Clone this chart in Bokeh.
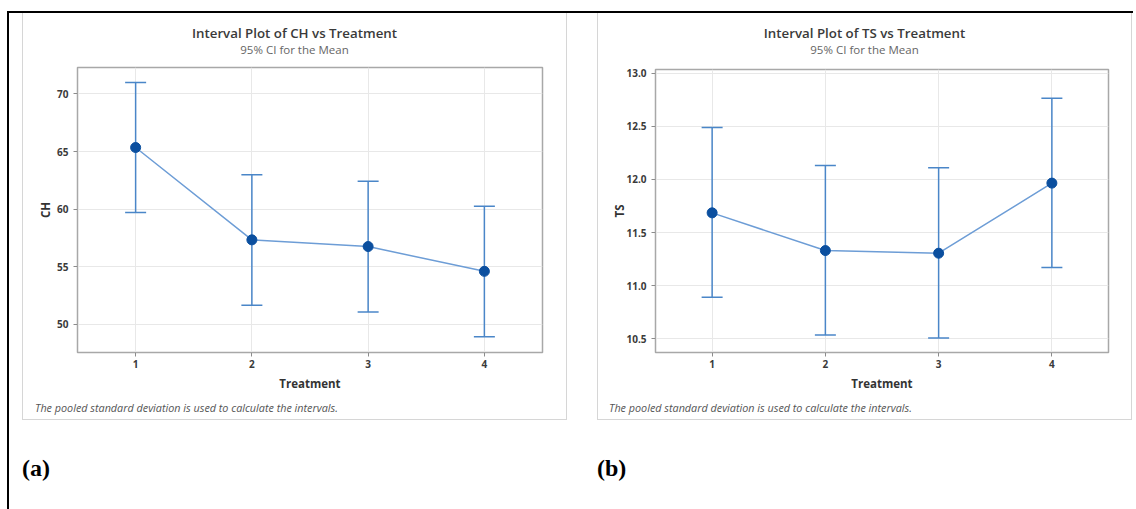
from bokeh.plotting import figure
from bokeh.models import (ColumnDataSource, Whisker, TeeHead, FixedTicker, Range1d,
                          PrintfTickFormatter, Div, Spacer)
from bokeh.layouts import row, column
from bokeh.embed import file_html
from bokeh.resources import INLINE

# ---------------- data ----------------
treatments = [1, 2, 3, 4]

ch_mean = [65.35, 57.34, 56.76, 54.61]
ch_lower = [59.72, 51.66, 51.08, 48.94]
ch_upper = [70.99, 62.99, 62.42, 60.26]
ch_ticks = [50, 55, 60, 65, 70]

ts_mean = [11.685, 11.330, 11.305, 11.965]
ts_lower = [10.890, 10.535, 10.507, 11.170]
ts_upper = [12.488, 12.130, 12.110, 12.765]
ts_ticks = [10.5, 11.0, 11.5, 12.0, 12.5, 13.0]

titles = ["Interval Plot of CH vs Treatment", "Interval Plot of TS vs Treatment"]
subtitle = "95% CI for the Mean"
footnote = "The pooled standard deviation is used to calculate the intervals."
x_label = "Treatment"
y_labels = ["CH", "TS"]
panel_tags = ["(a)", "(b)"]

# ---------------- style ----------------
FONT = "Open Sans"
ERR_COLOR = "#4a86c8"
LINE_COLOR = "#6d9dd6"
MARK_COLOR = "#0b4f9f"
FRAME_COLOR = "#a8a8a8"
GRID_COLOR = "#e8e8e8"
PANEL_BORDER = "#d6d6d6"
SIDE = f"1px solid {PANEL_BORDER}"


def bar(w, h, color):
    return Spacer(width=w, height=h, margin=0, styles={"background-color": color})


def top_div(w, h, title):
    html = (f"<div style=\"position:relative;box-sizing:border-box;width:{w}px;height:{h}px;"
            f"border-left:{SIDE};border-right:{SIDE};font-family:'{FONT}';\">"
            f"<div style='position:absolute;left:0;width:100%;top:11px;text-align:center;"
            f"font-size:13.3px;font-weight:600;line-height:18px;color:#3a3a3a;"
            f"white-space:nowrap'>{title}</div>"
            f"<div style='position:absolute;left:0;width:100%;top:30px;text-align:center;"
            f"font-size:11.5px;line-height:14px;color:#666;white-space:nowrap'>{subtitle}</div>"
            f"</div>")
    return Div(text=html, width=w, height=h, margin=0)


def foot_div(w, h, pad):
    html = (f"<div style=\"position:relative;box-sizing:border-box;width:{w}px;height:{h}px;"
            f"border-left:{SIDE};border-right:{SIDE};border-bottom:{SIDE};font-family:'{FONT}';\">"
            f"<div style='position:absolute;left:{pad}px;top:1px;font-size:10.8px;line-height:14px;"
            f"font-style:italic;color:#555;white-space:nowrap'>{footnote}</div></div>")
    return Div(text=html, width=w, height=h, margin=0)


def tag_div(w, h, tag):
    html = (f"<div style=\"position:relative;width:{w}px;height:{h}px;\">"
            f"<div style=\"position:absolute;left:0;top:34px;font-family:'Liberation Serif';"
            f"font-weight:bold;font-size:24px;line-height:28px;color:#000\">{tag}</div></div>")
    return Div(text=html, width=w, height=h, margin=0)


def make_chart(ml, fw, mr, mt, fh, mb, yr, ticks, fmt, mean, lower, upper, ylab, ystand):
    p = figure(frame_width=fw, frame_height=fh, x_range=Range1d(0.5, 4.5),
               y_range=Range1d(*yr), output_backend="svg", toolbar_location=None,
               min_border_left=ml, min_border_right=mr,
               min_border_top=mt, min_border_bottom=mb, margin=0)
    p.background_fill_color = "white"
    p.border_fill_color = "white"
    p.outline_line_color = FRAME_COLOR
    p.outline_line_width = 1.5

    p.xaxis.ticker = FixedTicker(ticks=treatments)
    p.yaxis.ticker = FixedTicker(ticks=ticks)
    p.yaxis.formatter = PrintfTickFormatter(format=fmt)
    for ax in (p.xaxis[0], p.yaxis[0]):
        ax.axis_line_color = None
        ax.major_tick_line_color = "#8c8c8c"
        ax.major_tick_out = 4
        ax.major_tick_in = 0
        ax.minor_tick_line_color = None
        ax.major_label_text_font = FONT
        ax.major_label_text_font_size = "10px"
        ax.major_label_text_font_style = "bold"
        ax.major_label_text_color = "#3a3a3a"
        ax.axis_label_text_font = FONT
        ax.axis_label_text_font_size = "11.5px"
        ax.axis_label_text_font_style = "bold"
        ax.axis_label_text_color = "#333333"
    p.xaxis.major_label_standoff = 3
    p.yaxis.major_label_standoff = 5
    p.xaxis.axis_label = x_label
    p.yaxis.axis_label = ylab
    p.xaxis.axis_label_standoff = 5
    p.yaxis.axis_label_standoff = ystand
    p.xgrid.grid_line_color = GRID_COLOR
    p.ygrid.grid_line_color = GRID_COLOR

    src = ColumnDataSource(dict(x=treatments, mean=mean, lower=lower, upper=upper))
    w = Whisker(source=src, base="x", upper="upper", lower="lower",
                line_color=ERR_COLOR, line_width=1.5,
                upper_head=TeeHead(size=21, line_color=ERR_COLOR, line_width=1.5),
                lower_head=TeeHead(size=21, line_color=ERR_COLOR, line_width=1.5))
    p.add_layout(w)
    p.line("x", "mean", source=src, line_color=LINE_COLOR, line_width=1.5)
    p.scatter("x", "mean", source=src, size=10, fill_color=MARK_COLOR,
              line_color=MARK_COLOR)
    return p


# chart (a): panel x 22..567, frame x 77..542, y 67..352 ; figure spans y 61..400
p1 = make_chart(54, 465, 24, 6, 285, 48, (47.57, 72.29), ch_ticks, "%d",
                ch_mean, ch_lower, ch_upper, y_labels[0], 1)
# chart (b): panel x 597..1132, frame x 655..1108, y 69..352
p2 = make_chart(57, 453, 23, 8, 283, 48, (10.37, 13.035), ts_ticks, "%.1f",
                ts_mean, ts_lower, ts_upper, y_labels[1], -4)

mid1 = row(bar(1, 339, PANEL_BORDER), p1, bar(1, 339, PANEL_BORDER), spacing=0)
mid2 = row(bar(1, 339, PANEL_BORDER), p2, bar(1, 339, PANEL_BORDER), spacing=0)

col1 = column(top_div(545, 48, titles[0]), mid1, foot_div(545, 20, 12),
              tag_div(545, 89, panel_tags[0]), spacing=0)
col2 = column(top_div(535, 48, titles[1]), mid2, foot_div(535, 20, 11),
              tag_div(535, 89, panel_tags[1]), spacing=0)

body = row(Spacer(width=7, height=496), bar(2, 496, "black"), Spacer(width=13, height=496),
           col1, Spacer(width=30, height=496), col2, spacing=0)
top = row(Spacer(width=7, height=2), bar(1126, 2, "black"), spacing=0)
page = column(Spacer(width=1136, height=11), top, body, spacing=0)

open("out.html", "w").write(file_html(page, INLINE))
